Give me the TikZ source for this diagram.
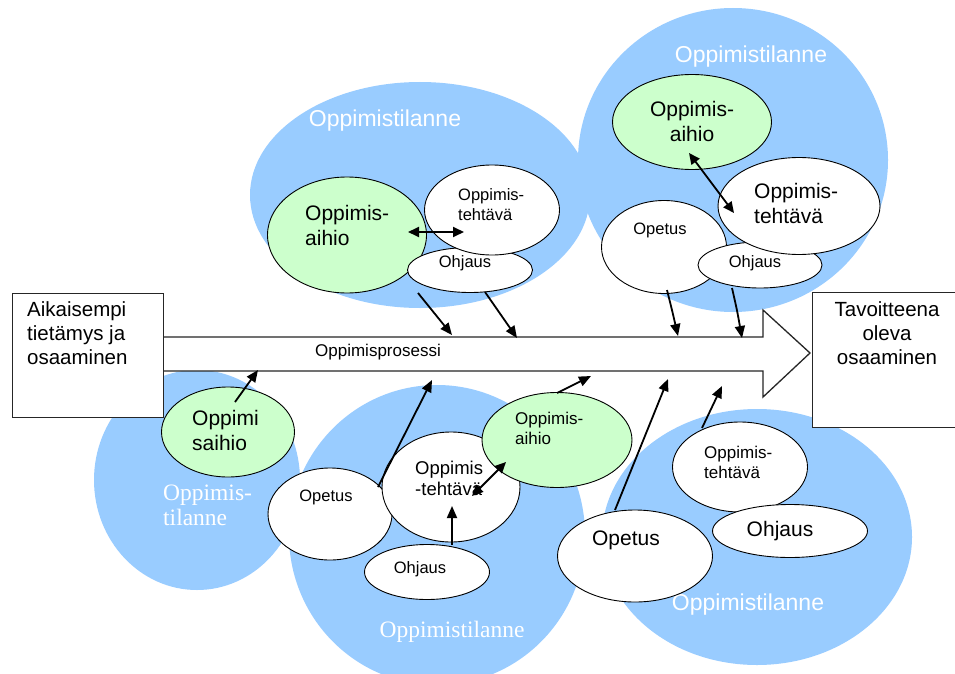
\documentclass[tikz,border=0pt]{standalone}
\usepackage{fontspec}
\setmainfont{Liberation Sans}
\newfontfamily\serifl{Liberation Serif}
\usetikzlibrary{arrows.meta,shapes.geometric}
\definecolor{blobc}{RGB}{153,204,255}
\definecolor{aihioc}{RGB}{204,255,204}
\begin{document}
\begin{tikzpicture}[x=1pt,y=-1pt,
  blobshape/.style={ellipse, fill=blobc, draw=none, inner sep=0pt},
  ell/.style={ellipse, draw=black, line width=0.9pt, fill=white, inner sep=0pt},
  gell/.style={ell, fill=aihioc},
  bigtxt/.style={font=\fontsize{21}{25}\selectfont, align=left, inner sep=0pt},
  smalltxt/.style={font=\fontsize{16.5}{20}\selectfont, align=left, inner sep=0pt},
  lbl/.style={font=\fontsize{23}{25}\selectfont, text=white, inner sep=0pt},
  slbl/.style={font=\serifl\fontsize{23.5}{25}\selectfont, text=white, inner sep=0pt, align=left},
  boxtxt/.style={font=\fontsize{20.5}{24}\selectfont, inner sep=0pt},
  arr/.style={line width=1.8pt, -{Triangle[length=12pt,width=10pt]}},
  darr/.style={line width=1.8pt, {Triangle[length=11pt,width=10pt]}-{Triangle[length=11pt,width=10pt]}},
  frame/.style={draw=black!85, line width=1.3pt, fill=white}
]
\useasboundingbox (0,0) rectangle (955,674);
\fill[white] (0,0) rectangle (955,674);

% blue blobs (Oppimistilanne)
\node[blobshape, minimum width=340, minimum height=226] (blobTL) at (420,195) {};
\node[blobshape, minimum width=310, minimum height=304] (blobTR) at (733,160) {};
\node[blobshape, minimum width=206, minimum height=220] (blobBL) at (197,480) {};
\node[blobshape, minimum width=296, minimum height=300] (blobBM) at (437,535) {};
\node[blobshape, minimum width=310, minimum height=256] (blobBR) at (757,537) {};

\node[lbl] (lTL) at (385,121) {Oppimistilanne};
\node[lbl] (lTR) at (751,57) {Oppimistilanne};
\node[slbl, anchor=west] (lBL) at (163,505) {Oppimis-\\tilanne};
\node[slbl] (lBM) at (452,632) {Oppimistilanne};
\node[lbl] (lBR) at (748,605) {Oppimistilanne};

% process arrow
\draw[frame] (163,337) -- (763,337) -- (763,310) -- (810,353) -- (763,397) -- (763,371) -- (163,371);
\node[font=\fontsize{17}{20}\selectfont, inner sep=0pt] (proc) at (378,352) {Oppimisprosessi};

% boxes
\node[frame, rectangle, minimum width=151, minimum height=124, anchor=north west] (start) at (12,293) {};
\node[boxtxt, align=left, anchor=north west] (starttxt) at (27,301) {Aikaisempi\\tietämys ja\\osaaminen};
\node[frame, rectangle, minimum width=150, minimum height=135, anchor=north west] (goal) at (812,292) {};
\node[boxtxt, align=center, anchor=north] (goaltxt) at (887,301) {Tavoitteena\\oleva\\osaaminen};

% top-left cluster
\node[gell, minimum width=159, minimum height=116] (tlA) at (347,235) {};
\node[ell, minimum width=125, minimum height=45] (tlO) at (470,270) {};
\node[ell, minimum width=135, minimum height=90] (tlT) at (492,210) {};
\node[bigtxt, anchor=west] at (305,225) {Oppimis-\\aihio};
\node[smalltxt, anchor=west] at (458,205) {Oppimis-\\tehtävä};
\node[smalltxt] at (465,263) {Ohjaus};

% top-right cluster
\node[gell, minimum width=159, minimum height=95] (trA) at (692,122) {};
\node[ell, minimum width=125, minimum height=93] (trP) at (664,247) {};
\node[ell, minimum width=124, minimum height=46] (trO) at (760,265) {};
\node[ell, minimum width=162, minimum height=97] (trT) at (799,206) {};
\node[bigtxt, align=center] at (692,121) {Oppimis-\\aihio};
\node[bigtxt, anchor=west] at (754,203) {Oppimis-\\tehtävä};
\node[smalltxt] at (660,230) {Opetus};
\node[smalltxt] at (755,263) {Ohjaus};

% bottom-left
\node[gell, minimum width=133, minimum height=90] (blA) at (228,432) {};
\node[bigtxt, anchor=west] at (192,430) {Oppimi\\saihio};

% bottom-middle
\node[ell, minimum width=124, minimum height=92] (bmP) at (330,514) {};
\node[ell, minimum width=138, minimum height=110] (bmT) at (451,487) {};
\node[ell, minimum width=125, minimum height=55] (bmO) at (427,572) {};
\node[gell, minimum width=150, minimum height=95] (bmA) at (557,440) {};
\node[smalltxt] at (326,497) {Opetus};
\node[font=\fontsize{18.5}{21}\selectfont, align=left, inner sep=0pt, anchor=west] at (415,478) {Oppimis\\-tehtävä};
\node[smalltxt] at (420,569) {Ohjaus};
\node[font=\fontsize{17}{20}\selectfont, align=left, inner sep=0pt, anchor=west] at (515,428) {Oppimis-\\aihio};

% bottom-right
\node[ell, minimum width=135, minimum height=90] (brT) at (740,467) {};
\node[ell, minimum width=155, minimum height=53] (brO) at (790,531) {};
\node[ell, minimum width=155, minimum height=92] (brP) at (635,556) {};
\node[font=\fontsize{17}{20}\selectfont, align=left, inner sep=0pt, anchor=west] at (704,462) {Oppimis-\\tehtävä};
\node[bigtxt] at (626,540) {Opetus};
\node[bigtxt] at (780,531) {Ohjaus};

% arrow end points
\coordinate (a1s) at (418,293); \coordinate (a1e) at (452,335);
\coordinate (a2s) at (485,292); \coordinate (a2e) at (517,338);
\coordinate (a3s) at (667,290); \coordinate (a3e) at (678,336);
\coordinate (a4s) at (732,288); \coordinate (a4e) at (742,338);
\coordinate (a5s) at (235,402); \coordinate (a5e) at (258,370);
\coordinate (a6s) at (378,487); \coordinate (a6e) at (432,380);
\coordinate (a7s) at (452,545); \coordinate (a7e) at (452,506);
\coordinate (a8s) at (557,393); \coordinate (a8e) at (591,376);
\coordinate (a9s) at (615,510); \coordinate (a9e) at (668,379);
\coordinate (a10s) at (702,428); \coordinate (a10e) at (722,386);
\coordinate (d1s) at (408,232); \coordinate (d1e) at (464,232);
\coordinate (d2s) at (689,153); \coordinate (d2e) at (734,213);
\coordinate (d3s) at (472,496); \coordinate (d3e) at (506,462);

\draw[arr] (a1s) -- (a1e);
\draw[arr] (a2s) -- (a2e);
\draw[arr] (a3s) .. controls (672,310) .. (a3e);
\draw[arr] (a4s) .. controls (737,310) .. (a4e);
\draw[arr] (a5s) -- (a5e);
\draw[arr] (a6s) -- (a6e);
\draw[arr] (a7s) -- (a7e);
\draw[arr] (a8s) -- (a8e);
\draw[arr] (a9s) -- (a9e);
\draw[arr] (a10s) -- (a10e);
\draw[darr] (d1s) -- (d1e);
\draw[darr] (d2s) -- (d2e);
\draw[darr] (d3s) -- (d3e);
\end{tikzpicture}
\end{document}
